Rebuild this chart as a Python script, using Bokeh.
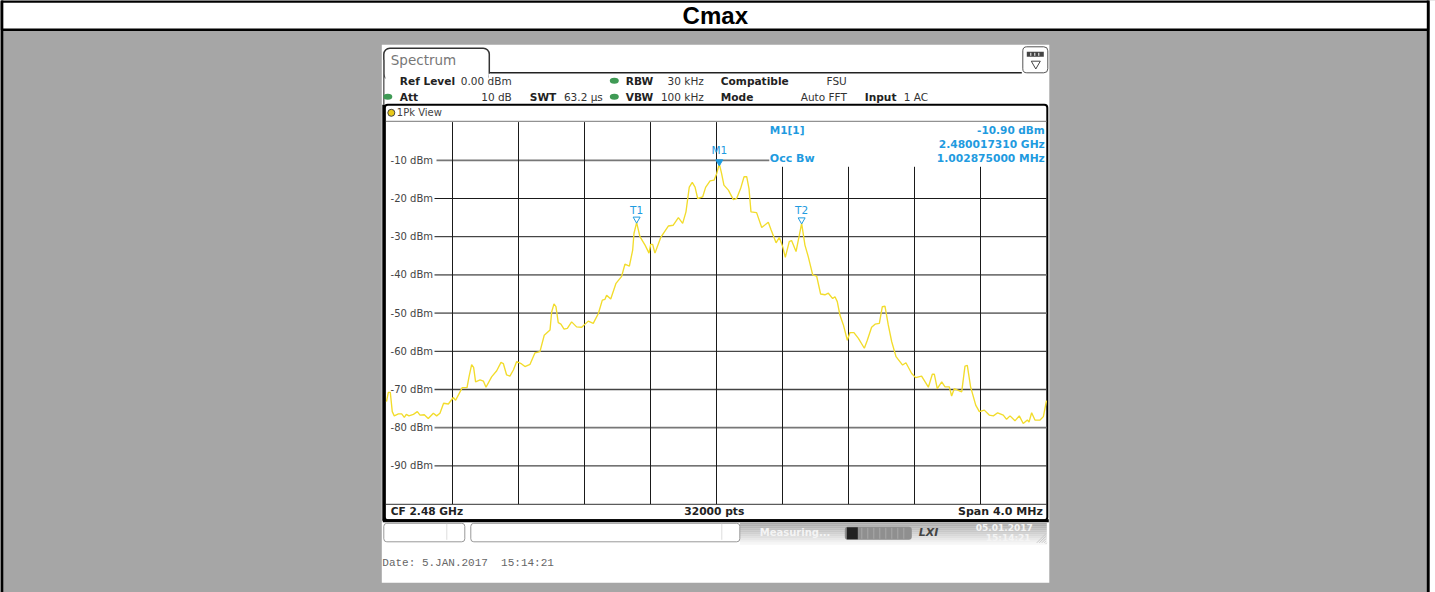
from bokeh.plotting import figure
from bokeh.models import Range1d
from bokeh.core.properties import value
from bokeh.embed import file_html
from bokeh.resources import INLINE

# --- chart data (offset from 2.48 GHz in MHz, level in dBm) ---
trace_mhz = [
 -2.000,-1.989,-1.977,-1.965,-1.953,-1.928,-1.908,-1.892,-1.880,-1.864,-1.837,-1.813,-1.797,-1.771,-1.747,
 -1.716,-1.696,-1.676,-1.654,-1.625,-1.595,-1.581,-1.541,-1.512,-1.500,-1.484,-1.472,-1.460,-1.433,-1.413,
 -1.397,-1.363,-1.332,-1.306,-1.292,-1.272,-1.252,-1.231,-1.211,-1.181,-1.161,-1.130,-1.100,-1.070,-1.044,
 -1.009,-0.999,-0.985,-0.973,-0.959,-0.943,-0.924,-0.904,-0.878,-0.848,-0.817,-0.777,-0.747,-0.716,-0.692,
 -0.676,-0.666,-0.641,-0.609,-0.575,-0.555,-0.528,-0.508,-0.500,-0.484,-0.464,-0.433,-0.409,-0.399,-0.387,
 -0.373,-0.338,-0.292,-0.262,-0.231,-0.205,-0.185,-0.165,-0.147,-0.130,-0.114,-0.084,-0.066,-0.039,-0.015,
 0.001,0.017,0.031,0.045,0.072,0.102,0.122,0.146,0.167,0.183,0.197,0.209,0.243,0.274,0.314,
 0.330,0.361,0.381,0.401,0.417,0.441,0.455,0.482,0.502,0.516,0.536,0.556,0.583,0.607,0.631,
 0.657,0.678,0.704,0.718,0.732,0.748,0.769,0.793,0.809,0.833,0.860,0.896,0.914,0.940,0.961,
 0.987,1.005,1.021,1.041,1.062,1.088,1.128,1.148,1.183,1.207,1.243,1.284,1.308,1.320,1.338,
 1.365,1.385,1.411,1.425,1.441,1.486,1.506,1.520,1.540,1.571,1.593,1.623,1.653,1.678,1.704,
 1.738,1.758,1.779,1.809,1.835,1.859,1.884,1.894,1.910,1.930,1.961,1.981,2.000]
trace_dbm = [
 -73.2,-70.75,-70.75,-75.8,-76.9,-76.4,-76.4,-77.3,-76.5,-76.9,-76.5,-75.8,-76.7,-76.6,-77.6,
 -76.2,-76.9,-76.2,-73.6,-73.8,-72.1,-72.8,-69.5,-69.5,-66.7,-63.5,-64.2,-68.0,-67.5,-67.8,
 -69.4,-66.7,-65.1,-62.9,-63.2,-66.2,-66.5,-64.9,-62.7,-63.3,-64.0,-63.4,-60.4,-60.1,-55.8,
 -54.4,-49.7,-47.6,-48.3,-52.5,-52.9,-54.2,-54.0,-52.3,-53.6,-53.7,-52.1,-52.7,-50.1,-46.6,
 -46.4,-45.3,-46.3,-42.2,-40.4,-37.2,-37.7,-33.5,-29.1,-26.3,-30.0,-32.2,-34.3,-32.0,-32.0,
 -34.3,-30.2,-27.2,-27.0,-25.0,-26.5,-23.5,-17.0,-15.8,-17.0,-20.0,-19.6,-17.1,-15.4,-15.2,
 -13.5,-10.9,-13.5,-16.5,-17.8,-20.3,-20.0,-17.4,-14.3,-14.3,-17.4,-23.5,-23.7,-27.6,-26.2,
 -28.1,-31.6,-30.2,-32.6,-35.4,-31.3,-31.0,-33.9,-29.6,-26.5,-32.2,-35.2,-40.0,-40.3,-45.0,
 -45.2,-44.8,-46.2,-45.7,-47.0,-50.5,-53.1,-57.1,-55.1,-55.1,-56.6,-59.2,-57.1,-53.7,-52.9,
 -52.7,-48.3,-48.2,-53.1,-57.5,-61.4,-63.6,-63.0,-65.8,-66.9,-66.5,-69.4,-66.0,-66.0,-69.8,
 -68.0,-69.3,-69.3,-71.7,-69.8,-70.6,-63.9,-63.7,-69.3,-74.1,-75.8,-75.4,-76.7,-76.9,-76.1,
 -76.7,-77.8,-76.9,-78.2,-76.9,-78.9,-78.0,-78.5,-76.1,-78.0,-78.0,-77.1,-72.9]
level_ticks = [-10, -20, -30, -40, -50, -60, -70, -80, -90]
level_labels = ["-10 dBm", "-20 dBm", "-30 dBm", "-40 dBm", "-50 dBm", "-60 dBm", "-70 dBm", "-80 dBm", "-90 dBm"]
freq_ticks = [-1.6, -1.2, -0.8, -0.4, 0.0, 0.4, 0.8, 1.2, 1.6]
delta_mhz = [-0.484, 0.516]
delta_dbm = [-26.3, -26.5]
peak_mhz = [0.017]
peak_dbm = [-10.9]

BLUE = "#1f9be0"
YEL = "#f2dc2c"
GRAY = "#a6a6a6"

PXM = 165.0   # px per MHz
PXD = 3.82    # px per dB
X0 = 386.0    # left edge of the trace area
Y0 = 121.6    # top edge of the trace area
p = figure(width=1435, height=592, output_backend="svg", toolbar_location=None,
           x_range=Range1d(-2 - X0 / PXM, -2 + (1435 - X0) / PXM),
           y_range=Range1d(-(592 - Y0) / PXD, Y0 / PXD),
           min_border=0, min_border_left=0, min_border_right=0, min_border_top=0, min_border_bottom=0,
           background_fill_color=GRAY, border_fill_color=GRAY, outline_line_color=None)
p.extra_x_ranges["page"] = Range1d(0.7, 1435.7)
p.extra_y_ranges["page"] = Range1d(592.7, 0.7)
p.xaxis.visible = False
p.yaxis.visible = False
p.xgrid.visible = False
p.ygrid.visible = False

def box(l, t, r, b, fill="white", line=None, lw=1, radius=0):
    p.quad(left=[l], right=[r], top=[t], bottom=[b], fill_color=fill, line_color=line,
           line_width=lw, x_range_name="page", y_range_name="page",
           border_radius=radius)

def hline(x0, x1, y, color="black", w=1):
    p.segment([x0], [y], [x1], [y], line_color=color, line_width=w, x_range_name="page", y_range_name="page")

def vline(x, y0, y1, color="black", w=1):
    p.segment([x], [y0], [x], [y1], line_color=color, line_width=w, x_range_name="page", y_range_name="page")

def txt(x, y, s, size=11, color="#333333", font="DejaVu Sans", bold=False, align="left", style=None):
    p.text([x], [y], text=[s], text_font=value(font), text_font_size=f"{size}px",
           text_font_style=style or ("bold" if bold else "normal"), text_color=color, text_align=align,
           text_baseline="middle", x_range_name="page", y_range_name="page")

# outer table frame
box(2, 1.8, 1428.5, 30, fill="white", line="black", lw=2.5)
vline(2, 0, 593, w=3)
vline(1428.5, 0, 593, w=3)
box(1430, 0, 1437, 593, fill="white")
txt(715.5, 15.5, "Cmax", size=24, color="black", font="Liberation Sans", bold=True, align="center")

# instrument screenshot
box(382, 45, 1049.5, 583, fill="white")
# tab
hline(490, 1022, 73, color="#222222", w=1.5)
p.quad(left=[384], right=[489.5], top=[48.5], bottom=[80], fill_color="white", line_color="#333333",
       line_width=1.5, border_radius=6, x_range_name="page", y_range_name="page")
box(385.5, 74, 488.5, 82, fill="white")
box(488.7, 74, 491, 82, fill="white")
vline(384, 60, 105, color="#666666", w=1.5)
txt(391, 60.5, "Spectrum", size=13.5, color="#777777")
# icon
p.quad(left=[1023], right=[1048], top=[47], bottom=[73], fill_color="white", line_color="#555555",
       line_width=1, border_radius=4, x_range_name="page", y_range_name="page")
box(1027, 52, 1044, 57, fill="#444444")
for xx in (1031, 1035, 1039):
    vline(xx, 53, 56, color="white")
p.scatter([1036], [64], marker="inverted_triangle", size=9, fill_color="white", line_color="#444444",
          x_range_name="page", y_range_name="page")

# settings lines
txt(400, 81, "Ref Level", size=10.6, color="#222222", bold=True)
txt(461, 81, "0.00 dBm", size=10.5)
txt(400, 97, "Att", size=10.6, color="#222222", bold=True)
txt(512, 97, "10 dB", size=10.5, align="right")
txt(530, 97, "SWT", size=10.6, color="#222222", bold=True)
txt(603, 97, "63.2 \u00b5s", size=10.5, align="right")
txt(626, 81, "RBW", size=10.6, color="#222222", bold=True)
txt(704, 81, "30 kHz", size=10.5, align="right")
txt(626, 97, "VBW", size=10.6, color="#222222", bold=True)
txt(704, 97, "100 kHz", size=10.5, align="right")
txt(721, 81, "Compatible", size=10.6, color="#222222", bold=True)
txt(847, 81, "FSU", size=10.5, align="right")
txt(721, 97, "Mode", size=10.6, color="#222222", bold=True)
txt(847, 97, "Auto FFT", size=10.5, align="right")
txt(865, 97, "Input", size=10.6, color="#222222", bold=True)
txt(904, 97, "1 AC", size=10.5)
for cx, cy in ((614.5, 81), (614.5, 97), (388, 97)):
    p.ellipse([cx], [cy], width=9, height=6, fill_color="#3f9a55", line_color=None,
              x_range_name="page", y_range_name="page")

# view box
p.quad(left=[385], right=[1047.5], top=[105], bottom=[520.5], fill_color="white", line_color="black",
       line_width=2, border_radius=3, x_range_name="page", y_range_name="page")
hline(386, 1047, 121.5, color="#777777", w=1)
hline(386, 1047, 504.5, color="#333333", w=1)
hline(383, 1049, 521, color="black", w=3)
vline(384, 105, 521, color="black", w=3)
p.circle([391.5], [113], radius=3.5, fill_color="#e8c818", line_color="#444444", line_width=1,
         x_range_name="page", y_range_name="page")
txt(397, 113, "1Pk View", size=10, color="#444444")

# grid, labels and trace: on the chart's own scales
n = len(level_ticks)
grid_left = [-2 + v / PXM for v in (50, 48, 48, 48, 48, 48, 48, 48, 48)]
grid_right = [0.32] + [2.0] * (n - 1)
grid_colors = ["#777777", "#1a1a1a", "#1a1a1a", "#777777", "#777777", "#1a1a1a", "#444444", "#777777", "#1a1a1a"]
grid_widths = [1.7, 1, 1, 1.7, 1.7, 1, 1.3, 1.7, 1]
p.segment(grid_left, level_ticks, grid_right, level_ticks, line_color=grid_colors, line_width=grid_widths)
p.text([-2 + 46.5 / PXM] * n, level_ticks, text=level_labels, text_font=value("DejaVu Sans"), text_font_size="10px",
       text_color="#444444", text_align="right", text_baseline="middle")
vtop = [0.0 if f <= 0 else -11.7 for f in freq_ticks]
p.segment(freq_ticks, vtop, freq_ticks, [-100] * len(freq_ticks), line_color="#1a1a1a", line_width=1)
p.line(trace_mhz, trace_dbm, line_color=YEL, line_width=1.35)

# markers
p.scatter(delta_mhz, [d + 0.9 for d in delta_dbm], marker="inverted_triangle", size=7, fill_color="white",
          line_color=BLUE, line_width=1)
p.scatter(peak_mhz, [d + 0.5 for d in peak_dbm], marker="inverted_triangle", size=7, fill_color=BLUE, line_color=BLUE)
p.text(delta_mhz, [d + 3.4 for d in delta_dbm], text=["T1", "T2"], text_font=value("DejaVu Sans"), text_font_size="10.5px",
       text_color=BLUE, text_align="center", text_baseline="middle")
p.text(peak_mhz, [d + 3.6 for d in peak_dbm], text=["M1"], text_font=value("DejaVu Sans"), text_font_size="10.5px",
       text_color=BLUE, text_align="center", text_baseline="middle")

# marker info
txt(770, 130, "M1[1]", size=10.5, color=BLUE, bold=True)
txt(1045, 130, "-10.90 dBm", size=10.5, color=BLUE, bold=True, align="right")
txt(1045, 144.5, "2.480017310 GHz", size=10.7, color=BLUE, bold=True, align="right")
txt(1045, 159, "1.002875000 MHz", size=10.7, color=BLUE, bold=True, align="right")
txt(770, 159, "Occ Bw", size=11, color=BLUE, bold=True)

# bottom line
txt(391, 511.5, "CF 2.48 GHz", size=10.6, color="#222222", bold=True)
txt(714.5, 511.5, "32000 pts", size=10.7, color="#222222", bold=True, align="center")
txt(1043, 511.5, "Span 4.0 MHz", size=11, color="#222222", bold=True, align="right")

# status bar
shades = ["#a8a8a8", "#b0b0b0", "#b8b8b8", "#c0c0c0", "#c8c8c8", "#d0d0d0", "#d8d8d8", "#e0e0e0", "#e8e8e8", "#f0f0f0", "#f6f6f6"]
for i, c in enumerate(shades):
    box(740, 523 + 2 * i, 1047, 525 + 2 * i, fill=c)
p.quad(left=[384, 471], right=[465, 740], top=[523.5, 523.5], bottom=[542, 542], fill_color="white",
       line_color="#999999", line_width=1, border_radius=3, x_range_name="page", y_range_name="page")
vline(447, 524, 540, color="#dddddd")
vline(722, 524, 540, color="#dddddd")
txt(760, 533, "Measuring...", size=10, color="#f4f4f4", bold=True)
p.quad(left=[845], right=[912], top=[527], bottom=[540], fill_color="#8f8f8f", line_color=None,
       border_radius=3, x_range_name="page", y_range_name="page")
box(847, 527.5, 858, 539.5, fill="#222222")
for xx in (862, 868, 874, 880, 886, 892, 898, 904):
    vline(xx, 528, 539, color="#a8a8a8")
txt(919, 533, "LXI", size=11, color="#444444", style="bold italic")
txt(976, 528, "05.01.2017", size=9, color="#f4f4f4", bold=True)
txt(986, 538, "15:14:21", size=9, color="#f4f4f4", bold=True)
for k in range(5):
    p.segment([1037 + 2.5 * k], [543], [1046], [534 + 2.5 * k], line_color="#c8c8c8", line_width=1,
              x_range_name="page", y_range_name="page")

txt(382.5, 563, "Date: 5.JAN.2017\u00a0\u00a015:14:21", size=11, color="#666666", font="Liberation Mono")

open("out.html", "w").write(file_html(p, INLINE))
